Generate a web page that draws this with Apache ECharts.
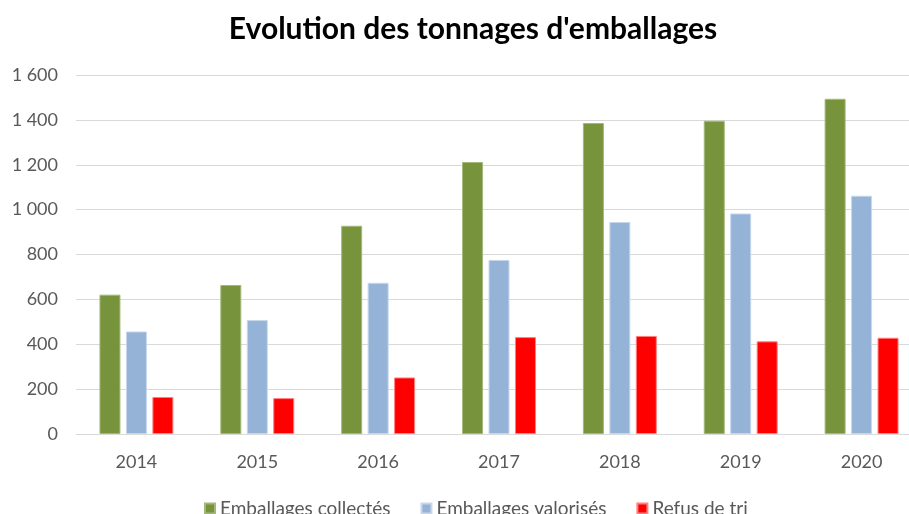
<!DOCTYPE html>
<html><head><meta charset="utf-8">
<script src="https://cdn.jsdelivr.net/npm/echarts@6/dist/echarts.min.js"></script>
<style>html,body{margin:0;padding:0;background:#fff;overflow:hidden}#c{width:925px;height:514px}</style>
</head><body><div id="c"></div>
<script>
const categories = ['2014','2015','2016','2017','2018','2019','2020'];
const collectes = [621, 664, 928, 1212, 1386, 1396, 1494];
const valorises = [457, 508, 674, 776, 945, 983, 1062];
const refus = [165, 160, 252, 432, 437, 413, 429];
const yTicks = {min: 0, max: 1600, interval: 200};

const chart = echarts.init(document.getElementById('c'));
const fmt = v => v >= 1000 ? Math.floor(v/1000) + '\u00a0' + String(v%1000).padStart(3,'0') : String(v);
const font = 'Lato, "Open Sans", sans-serif';
chart.setOption({
  animation: false,
  title: {text: "Evolution des tonnages d'emballages", left: 468, top: 9, textAlign: 'center',
    textStyle: {fontFamily: font, fontWeight: 'bold', fontSize: 30, color: '#000'}},
  legend: {top: 494, left: 199, itemWidth: 10, itemHeight: 10, itemGap: 30,
    icon: 'rect', textStyle: {fontFamily: font, fontSize: 19, color: '#595959'}},
  grid: {left: 76, right: 3, top: 75, height: 359},
  xAxis: {type: 'category', data: categories,
    axisLine: {lineStyle: {color: '#d9d9d9', width: 1}}, axisTick: {show: false},
    axisLabel: {fontFamily: font, fontSize: 18, color: '#595959', margin: 19}},
  yAxis: {type: 'value', min: yTicks.min, max: yTicks.max, interval: yTicks.interval,
    axisLine: {show: false}, axisTick: {show: false},
    splitLine: {lineStyle: {color: '#d9d9d9'}},
    axisLabel: {fontFamily: font, fontSize: 18, color: '#595959', margin: 18, formatter: fmt}},
  series: [
    {name: 'Emballages collectés', type: 'bar', data: collectes, barWidth: 21, barGap: '26%',
      itemStyle: {color: '#77933C', borderColor: '#a3b97a', borderWidth: 1}},
    {name: 'Emballages valorisés', type: 'bar', data: valorises, barWidth: 21,
      itemStyle: {color: '#95B3D7', borderColor: '#c8d8ec', borderWidth: 1}},
    {name: 'Refus de tri', type: 'bar', data: refus, barWidth: 21,
      itemStyle: {color: '#FF0000', borderColor: '#ff8080', borderWidth: 1}}
  ]
});
</script></body></html>
